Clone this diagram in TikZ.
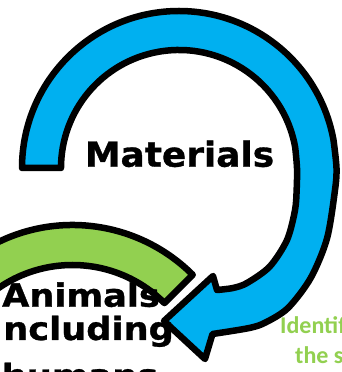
\documentclass[tikz,border=0pt]{standalone}
\usepackage{fontspec}
\newfontfamily\vfont{DejaVu Sans Bold}[FakeBold=0.9]
\newfontfamily\cfont{Carlito}
\definecolor{arcblue}{HTML}{00B0F0}
\definecolor{arcgreen}{HTML}{92D050}
\tikzset{
  band/.style={draw=black, line width=6.5pt, line join=round},
  bigtext/.style={text=black, inner sep=0pt, anchor=base},
  smalltext/.style={font=\cfont\bfseries\fontsize{24}{28}\selectfont, text=arcgreen, inner sep=0pt, anchor=base west}
}
\begin{document}
\begin{tikzpicture}[x=1pt,y=1pt]
\useasboundingbox (0,0) rectangle (342,372);
\clip (0,0) rectangle (342,372);
\fill[white] (0,0) rectangle (342,372);
\coordinate (gc) at (72.5,-23);
\coordinate (bc) at (179,204);
% green arc
\draw[band, fill=arcgreen] ([shift={(170:170pt)}]gc) arc[start angle=170, end angle=45, radius=170pt]
  -- ([shift={(45:130pt)}]gc) arc[start angle=45, end angle=170, radius=130pt] -- cycle;
% blue arrow
\draw[band, fill=arcblue] ([shift={(180:157pt)}]bc) arc[start angle=180, end angle=10, radius=157pt]
  -- plot[smooth] coordinates {(333.6,231.3) (336.5,204) (335,182) (327,133.5) (310.7,94) (288,64) (265.5,49.5) (249.3,44) (212.5,38)}
  -- (205,13) -- (164,51) -- (213,96) -- (217,82)
  -- plot[smooth] coordinates {(217,82) (233,84) (247,89) (269.7,105.4) (287,132) (295,161.8) (296.7,183.3) (297,204) (295.2,224.5)}
  arc[start angle=10, end angle=180, radius=118pt] -- cycle;
% texts
\node[bigtext, font=\vfont\fontsize{34.5}{40}\selectfont, xscale=1.04] (mat) at (179.5,205.3) {Materials};
\node[bigtext, font=\vfont\fontsize{32}{38}\selectfont, xscale=1.1] (ani) at (81,65.3) {Animals};
\node[bigtext, font=\vfont\fontsize{32}{38}\selectfont, xscale=1.1] (inc) at (88.5,32) {ncluding};
\node[bigtext, font=\vfont\fontsize{32}{38}\selectfont, xscale=1.1] (hum) at (80,-15) {humans};
\node[smalltext] (id) at (280,38) {Identif};
\node[smalltext] (ths) at (295,9) {the s};
\end{tikzpicture}
\end{document}
